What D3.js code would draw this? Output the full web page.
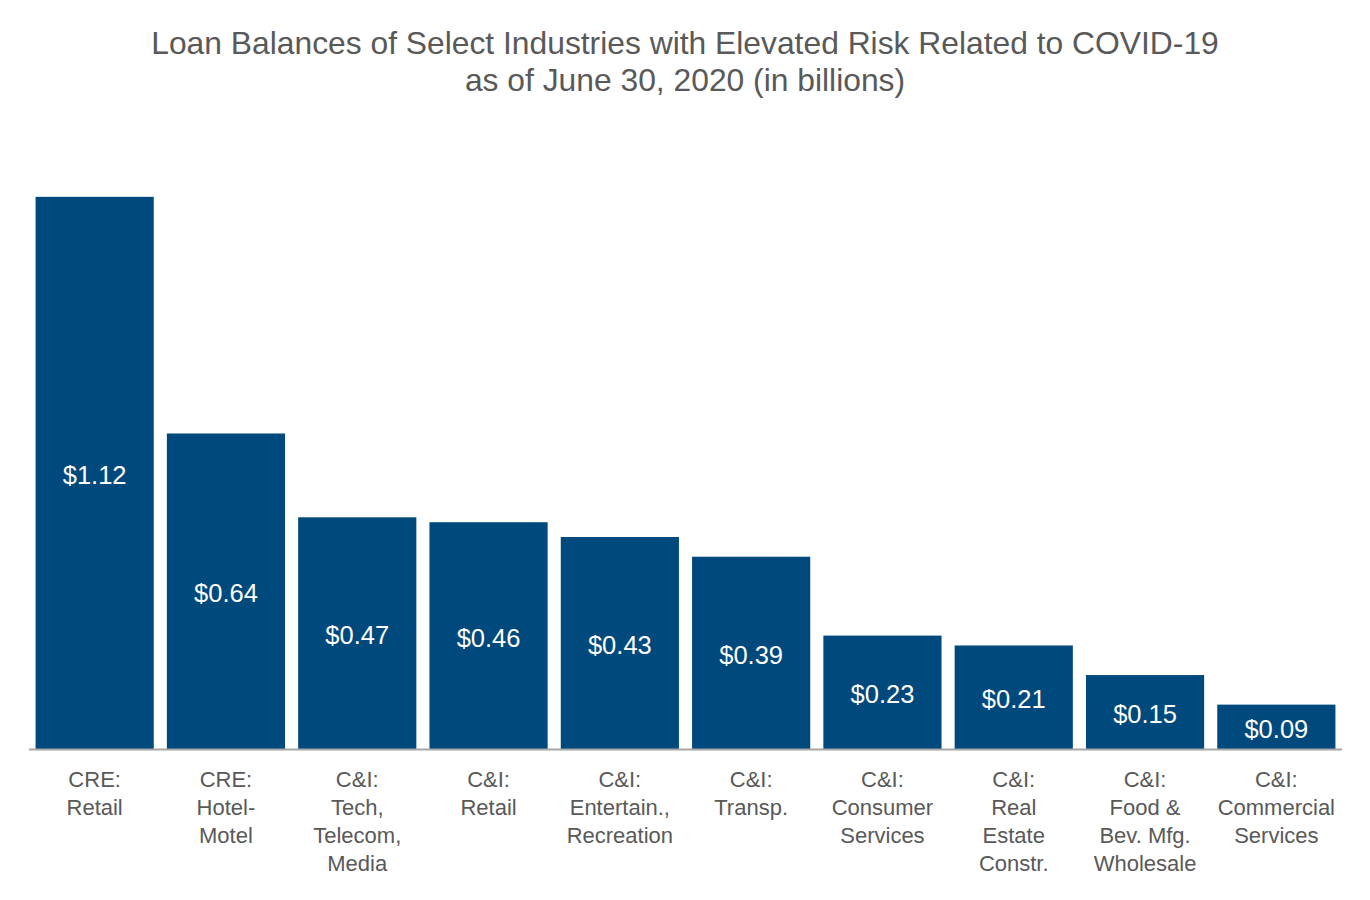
<!DOCTYPE html>
<html><head><meta charset="utf-8">
<script src="https://cdn.jsdelivr.net/npm/d3@7"></script>
<style>body{margin:0;background:#fff}svg{display:block}text{font-family:"Liberation Sans",Arial,Helvetica,sans-serif}</style>
</head><body>
<svg id="chart" width="1370" height="900"></svg>
<script>
const titleLines = ["Loan Balances of Select Industries with Elevated Risk Related to COVID-19", "as of June 30, 2020 (in billions)"];
const categories = [
  ["CRE:", "Retail"],
  ["CRE:", "Hotel-", "Motel"],
  ["C&I:", "Tech,", "Telecom,", "Media"],
  ["C&I:", "Retail"],
  ["C&I:", "Entertain.,", "Recreation"],
  ["C&I:", "Transp."],
  ["C&I:", "Consumer", "Services"],
  ["C&I:", "Real", "Estate", "Constr."],
  ["C&I:", "Food &", "Bev. Mfg.", "Wholesale"],
  ["C&I:", "Commercial", "Services"]
];
const values = [1.12, 0.64, 0.47, 0.46, 0.43, 0.39, 0.23, 0.21, 0.15, 0.09];

const svg = d3.select("#chart");
const grey = "#595959";
const barColor = "#00497c";

const idx = d3.range(values.length);
const x = d3.scaleBand().domain(idx).range([29, 1342]).paddingInner(0.1).paddingOuter(0.05);
const y = d3.scaleLinear().domain([0, 1.2]).range([749, 749 - 1.2 * 493]);

svg.append("g").selectAll("text").data(titleLines).join("text")
  .attr("x", 685).attr("y", (d, i) => 54 + i * 37)
  .attr("text-anchor", "middle").attr("font-size", 31.8)
  .attr("fill", grey).text(d => d);

svg.append("g").selectAll("rect").data(values).join("rect")
  .attr("x", (d, i) => x(i)).attr("width", x.bandwidth())
  .attr("y", d => y(d)).attr("height", d => y(0) - y(d))
  .attr("fill", barColor);

svg.append("line").attr("x1", 29).attr("x2", 1342).attr("y1", y(0) + 0.5).attr("y2", y(0) + 0.5)
  .attr("stroke", "#a6a6a6").attr("stroke-width", 2);

svg.append("g").selectAll("text").data(values).join("text")
  .attr("x", (d, i) => x(i) + x.bandwidth() / 2)
  .attr("y", d => (y(d) + y(0)) / 2 + 11)
  .attr("text-anchor", "middle").attr("font-size", 25.5)
  .attr("fill", "#fff").text(d => "$" + d.toFixed(2));

const labels = svg.append("g").selectAll("text").data(categories).join("text")
  .attr("text-anchor", "middle").attr("font-size", 22).attr("fill", grey);
labels.each(function(lines, i) {
  d3.select(this).selectAll("tspan").data(lines).join("tspan")
    .attr("x", x(i) + x.bandwidth() / 2)
    .attr("y", (d, j) => 787 + j * 28)
    .text(d => d);
});
</script>
</body></html>
